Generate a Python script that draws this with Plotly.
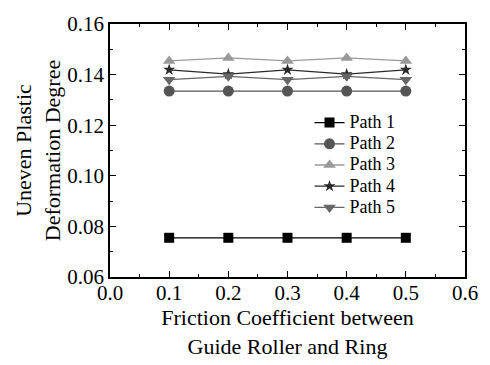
import plotly.graph_objects as go

friction = [0.1, 0.2, 0.3, 0.4, 0.5]
path1 = [0.0755, 0.0755, 0.0755, 0.0755, 0.0755]
path2 = [0.1335, 0.1335, 0.1335, 0.1335, 0.1335]
path3 = [0.1454, 0.1466, 0.1454, 0.1466, 0.1454]
path4 = [0.1419, 0.1402, 0.1419, 0.1402, 0.1419]
path5 = [0.1380, 0.1393, 0.1380, 0.1393, 0.1380]

series = [
    ("Path 1", path1, "#000000", "square", 10),
    ("Path 2", path2, "#555555", "circle", 11),
    ("Path 3", path3, "#999999", "triangle-up", 11),
    ("Path 4", path4, "#2a2a2a", "star", 9),
    ("Path 5", path5, "#666666", "triangle-down", 11),
]

fig = go.Figure()
for name, vals, color, symbol, size in series:
    fig.add_trace(go.Scatter(
        x=friction, y=vals, mode="lines+markers",
        # larger label text inside a compact legend row
        name=f"<span style='font-size:18px'>{name}</span>",
        line=dict(color=color, width=1.3),
        marker=dict(symbol=symbol, size=size, color=color),
    ))

font = "Liberation Serif, Times New Roman, serif"
axis_common = dict(
    showline=True, linecolor="black", linewidth=1.5, mirror="ticks",
    ticks="inside", ticklen=6, tickwidth=1.2, tickcolor="black",
    showgrid=False, zeroline=False,
    tickfont=dict(family=font, size=21, color="black"),
)

fig.update_layout(
    width=490, height=365,
    margin=dict(l=110, r=19, t=15, b=88),
    paper_bgcolor="white", plot_bgcolor="white",
    font=dict(family=font, color="black"),
    showlegend=True,
    legend=dict(
        x=0.562, y=0.672, xanchor="left", yanchor="top",
        bgcolor="rgba(0,0,0,0)", font=dict(family=font, size=14),
        tracegroupgap=0, itemwidth=30,
    ),
    xaxis=dict(
        range=[0.0, 0.6], tickvals=[0.0, 0.1, 0.2, 0.3, 0.4, 0.5, 0.6],
        ticktext=["0.0", "0.1", "0.2", "0.3", "0.4", "0.5", "0.6"],
        minor=dict(dtick=0.05, ticks="inside", ticklen=3, tickcolor="black"),
        ticklabelstandoff=-4,
        title=dict(text="Friction Coefficient between<br>Guide Roller and Ring",
                   font=dict(family=font, size=22), standoff=1),
        **axis_common,
    ),
    yaxis=dict(
        range=[0.06, 0.16], tickvals=[0.06, 0.08, 0.10, 0.12, 0.14, 0.16],
        ticktext=["0.06", "0.08", "0.10", "0.12", "0.14", "0.16"],
        minor=dict(dtick=0.01, ticks="inside", ticklen=3, tickcolor="black"),
        ticklabelstandoff=0,
        title=dict(text="Uneven Plastic<br>Deformation Degree",
                   font=dict(family=font, size=22), standoff=1),
        **axis_common,
    ),
)

fig.write_html("out.html")
